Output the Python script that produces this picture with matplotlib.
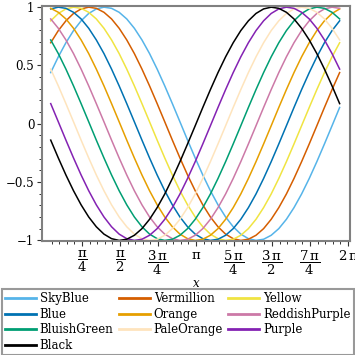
import numpy as np
import matplotlib
matplotlib.use("Agg")
import matplotlib.pyplot as plt
from matplotlib.ticker import FixedLocator

plt.rcParams['font.family'] = ['DejaVu Serif']
plt.rcParams['mathtext.fontset'] = 'custom'
plt.rcParams['mathtext.rm'] = 'DejaVu Serif'
plt.rcParams['mathtext.it'] = 'DejaVu Serif'
plt.rcParams['mathtext.bf'] = 'DejaVu Serif:bold'

# x sample positions (radians)
x_vals = [0.140, 0.297, 0.454, 0.611, 0.768, 0.925, 1.082, 1.240, 1.397, 1.554,
          1.711, 1.868, 2.025, 2.182, 2.339, 2.496, 2.653, 2.810, 2.967, 3.125,
          3.282, 3.439, 3.596, 3.753, 3.910, 4.067, 4.224, 4.381, 4.538, 4.695,
          4.852, 5.009, 5.166, 5.323, 5.481, 5.638, 5.795, 5.952, 6.109]

sky_blue = [0.439, 0.574, 0.695, 0.799, 0.883, 0.946, 0.985, 1.000, 0.990, 0.956,
            0.899, 0.819, 0.719, 0.602, 0.469, 0.325, 0.173, 0.017, -0.140, -0.293,
            -0.439, -0.574, -0.695, -0.799, -0.883, -0.946, -0.985, -1.000, -0.990, -0.956,
            -0.899, -0.819, -0.719, -0.602, -0.469, -0.325, -0.173, -0.017, 0.140]
vermillion = [0.695, 0.799, 0.883, 0.946, 0.985, 1.000, 0.990, 0.956, 0.899, 0.819,
              0.719, 0.602, 0.469, 0.325, 0.173, 0.017, -0.140, -0.293, -0.439, -0.574,
              -0.695, -0.799, -0.883, -0.946, -0.985, -1.000, -0.990, -0.956, -0.899, -0.819,
              -0.719, -0.602, -0.469, -0.325, -0.173, -0.017, 0.140, 0.293, 0.439]
yellow = [0.883, 0.946, 0.985, 1.000, 0.990, 0.956, 0.899, 0.819, 0.719, 0.602,
          0.469, 0.325, 0.173, 0.017, -0.140, -0.293, -0.439, -0.574, -0.695, -0.799,
          -0.883, -0.946, -0.985, -1.000, -0.990, -0.956, -0.899, -0.819, -0.719, -0.602,
          -0.469, -0.325, -0.173, -0.017, 0.140, 0.293, 0.439, 0.574, 0.695]
blue = [0.985, 1.000, 0.990, 0.956, 0.899, 0.819, 0.719, 0.602, 0.469, 0.325,
        0.173, 0.017, -0.140, -0.293, -0.439, -0.574, -0.695, -0.799, -0.883, -0.946,
        -0.985, -1.000, -0.990, -0.956, -0.899, -0.819, -0.719, -0.602, -0.469, -0.325,
        -0.173, -0.017, 0.140, 0.293, 0.439, 0.574, 0.695, 0.799, 0.883]
orange = [0.990, 0.956, 0.899, 0.819, 0.719, 0.602, 0.469, 0.325, 0.173, 0.017,
          -0.140, -0.293, -0.439, -0.574, -0.695, -0.799, -0.883, -0.946, -0.985, -1.000,
          -0.990, -0.956, -0.899, -0.819, -0.719, -0.602, -0.469, -0.325, -0.173, -0.017,
          0.140, 0.293, 0.439, 0.574, 0.695, 0.799, 0.883, 0.946, 0.985]
reddish_purple = [0.899, 0.819, 0.719, 0.602, 0.469, 0.325, 0.173, 0.017, -0.140, -0.293,
                  -0.439, -0.574, -0.695, -0.799, -0.883, -0.946, -0.985, -1.000, -0.990, -0.956,
                  -0.899, -0.819, -0.719, -0.602, -0.469, -0.325, -0.173, -0.017, 0.140, 0.293,
                  0.439, 0.574, 0.695, 0.799, 0.883, 0.946, 0.985, 1.000, 0.990]
bluish_green = [0.719, 0.602, 0.469, 0.325, 0.173, 0.017, -0.140, -0.293, -0.439, -0.574,
                -0.695, -0.799, -0.883, -0.946, -0.985, -1.000, -0.990, -0.956, -0.899, -0.819,
                -0.719, -0.602, -0.469, -0.325, -0.173, -0.017, 0.140, 0.293, 0.439, 0.574,
                0.695, 0.799, 0.883, 0.946, 0.985, 1.000, 0.990, 0.956, 0.899]
pale_orange = [0.469, 0.325, 0.173, 0.017, -0.140, -0.293, -0.439, -0.574, -0.695, -0.799,
               -0.883, -0.946, -0.985, -1.000, -0.990, -0.956, -0.899, -0.819, -0.719, -0.602,
               -0.469, -0.325, -0.173, -0.017, 0.140, 0.293, 0.439, 0.574, 0.695, 0.799,
               0.883, 0.946, 0.985, 1.000, 0.990, 0.956, 0.899, 0.819, 0.719]
purple = [0.173, 0.017, -0.140, -0.293, -0.439, -0.574, -0.695, -0.799, -0.883, -0.946,
          -0.985, -1.000, -0.990, -0.956, -0.899, -0.819, -0.719, -0.602, -0.469, -0.325,
          -0.173, -0.017, 0.140, 0.293, 0.439, 0.574, 0.695, 0.799, 0.883, 0.946,
          0.985, 1.000, 0.990, 0.956, 0.899, 0.819, 0.719, 0.602, 0.469]
black = [-0.140, -0.293, -0.439, -0.574, -0.695, -0.799, -0.883, -0.946, -0.985, -1.000,
         -0.990, -0.956, -0.899, -0.819, -0.719, -0.602, -0.469, -0.325, -0.173, -0.017,
         0.140, 0.293, 0.439, 0.574, 0.695, 0.799, 0.883, 0.946, 0.985, 1.000,
         0.990, 0.956, 0.899, 0.819, 0.719, 0.602, 0.469, 0.325, 0.173]

series_names = ["SkyBlue", "Vermillion", "Yellow", "Blue", "Orange",
                "ReddishPurple", "BluishGreen", "PaleOrange", "Purple", "Black"]
series_values = [sky_blue, vermillion, yellow, blue, orange,
                 reddish_purple, bluish_green, pale_orange, purple, black]
series_colors = ["#56B4E9", "#D55E00", "#F0E442", "#0072B2", "#E69F00",
                 "#CC79A7", "#009E73", "#FEE4BD", "#8422B3", "#000000"]

xtick_vals = [np.pi / 4, np.pi / 2, 3 * np.pi / 4, np.pi,
              5 * np.pi / 4, 3 * np.pi / 2, 7 * np.pi / 4, 2 * np.pi]
xtick_labels = [r'$\dfrac{\pi}{4}$', r'$\dfrac{\pi}{2}$', r'$\dfrac{3\,\pi}{4}$', r'$\pi$',
                r'$\dfrac{5\,\pi}{4}$', r'$\dfrac{3\,\pi}{2}$', r'$\dfrac{7\,\pi}{4}$', r'$2\,\pi$']
ytick_vals = [-1, -0.5, 0, 0.5, 1]
ytick_labels = ["\u22121", "\u22120.5", "0", "0.5", "1"]

W = H = 355
fig = plt.figure(figsize=(3.55, 3.55), dpi=100)
ax = fig.add_axes([42 / W, 1 - 241 / H, 308 / W, 235 / H])

handles = []
for name, vals, col in zip(series_names, series_values, series_colors):
    ln, = ax.plot(x_vals, vals, color=col, lw=1.1, label=name)
    handles.append(ln)

ax.set_xlim(-0.04, 2 * np.pi + 0.04)
ax.set_ylim(-1.005, 1.01)

ax.set_xticks(xtick_vals)
ax.set_xticklabels(xtick_labels, fontsize=9.5)
ax.xaxis.set_minor_locator(FixedLocator(np.arange(1, 40) * np.pi / 20))
ax.set_yticks(ytick_vals)
ax.set_yticklabels(ytick_labels, fontsize=8.5)
ax.yaxis.set_minor_locator(FixedLocator(np.arange(-10, 11) / 10))

for s in ax.spines.values():
    s.set_color('#808080')
    s.set_linewidth(1.5)

ax.tick_params(which='major', direction='out', length=3.5, width=0.8, color='#333333', pad=2)
ax.tick_params(which='minor', direction='out', length=2, width=0.7, color='#333333')

ax.set_xlabel('x', fontsize=8.5, style='italic', labelpad=0)

order = [0, 3, 6, 9, 1, 4, 7, 2, 5, 8]
leg = fig.legend([handles[i] for i in order], [series_names[i] for i in order],
                 loc='upper left', bbox_to_anchor=(2 / W, 1 - 289 / H),
                 ncol=3, fontsize=8.5, frameon=True, fancybox=False,
                 handlelength=2.6, handletextpad=0.35, columnspacing=0.45,
                 labelspacing=0.23, borderpad=0.25, borderaxespad=0)
leg.get_frame().set_edgecolor('#808080')
leg.get_frame().set_linewidth(1.5)
for lh in leg.get_lines():
    lh.set_linewidth(2.0)

fig.savefig('out.png', dpi=100)
